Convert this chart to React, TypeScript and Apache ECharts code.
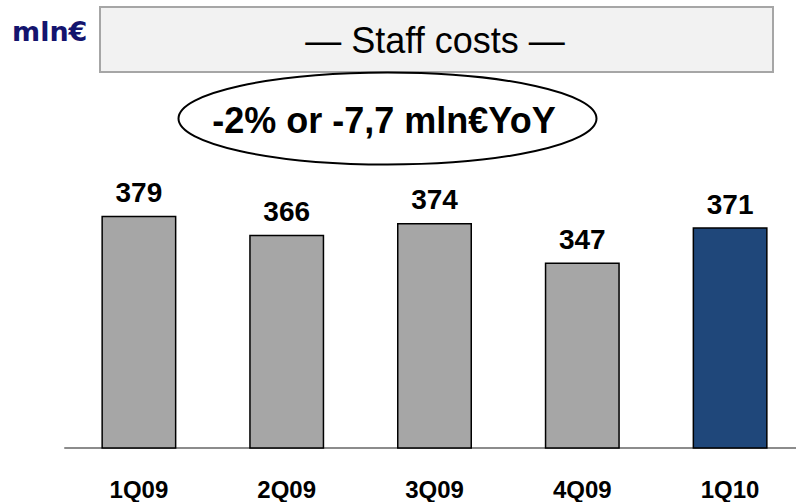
import React, { useEffect, useRef } from "react";
import * as echarts from "echarts";

const categories = ["1Q09", "2Q09", "3Q09", "4Q09", "1Q10"];
const staffCosts = [379, 366, 374, 347, 371];
const barColors = ["#a6a6a6", "#a6a6a6", "#a6a6a6", "#a6a6a6", "#1f477a"];
const titleText = "— Staff costs —";
const unitText = "mln€";
const noteText = "-2% or -7,7 mln€YoY";

export default function App() {
  const ref = useRef<HTMLDivElement>(null);
  useEffect(() => {
    if (!ref.current) return;
    const chart = echarts.init(ref.current, null, { renderer: "svg" });
    const font = "'Liberation Sans', Arial, sans-serif";
    chart.setOption({
      animation: false,
      backgroundColor: "#ffffff",
      grid: { left: 65, width: 739, top: 185, height: 263, containLabel: false },
      xAxis: {
        type: "category",
        data: categories,
        axisLine: { show: true, lineStyle: { color: "#8c8c8c", width: 2 } },
        axisTick: { show: false },
        axisLabel: {
          margin: 29,
          color: "#000000",
          fontFamily: font,
          fontWeight: "bold",
          fontSize: 24,
        },
      },
      yAxis: {
        type: "value",
        min: 220,
        max: 400,
        show: false,
        splitLine: { show: false },
      },
      series: [
        {
          type: "bar",
          data: staffCosts.map((v, i) => ({
            value: v,
            itemStyle: { color: barColors[i] },
          })),
          barWidth: 75,
          itemStyle: { borderColor: "#000000", borderWidth: 1.5 },
          label: {
            show: true,
            position: "top",
            distance: 9,
            color: "#000000",
            fontFamily: font,
            fontWeight: "bold",
            fontSize: 28,
          },
          z: 3,
        },
      ],
      graphic: [
        {
          type: "rect",
          shape: { x: 100, y: 7, width: 673, height: 65 },
          style: { fill: "#f2f2f2", stroke: "#a6a6a6", lineWidth: 2 },
          z: 1,
        },
        {
          type: "text",
          x: 435,
          y: 40,
          style: {
            text: titleText,
            fill: "#000000",
            font: `36px ${font}`,
            textAlign: "center",
            textVerticalAlign: "middle",
          },
          z: 2,
        },
        {
          type: "text",
          x: 12,
          y: 31,
          style: {
            text: unitText,
            fill: "#14146e",
            font: `bold 27px 'DejaVu Sans', sans-serif`,
            textAlign: "left",
            textVerticalAlign: "middle",
          },
          z: 2,
        },
        {
          type: "ellipse",
          shape: { cx: 387.5, cy: 118.5, rx: 209, ry: 46 },
          style: { fill: "none", stroke: "#000000", lineWidth: 2 },
          z: 2,
        },
        {
          type: "text",
          x: 384,
          y: 120,
          style: {
            text: noteText,
            fill: "#000000",
            font: `bold 36px ${font}`,
            textAlign: "center",
            textVerticalAlign: "middle",
          },
          z: 3,
        },
      ],
    });
    return () => chart.dispose();
  }, []);
  return (
    <div
      style={{
        position: "fixed",
        left: 0,
        top: 0,
        width: 796,
        height: 502,
        overflow: "hidden",
        background: "#ffffff",
      }}
    >
      <div ref={ref} style={{ width: 830, height: 502 }} />
    </div>
  );
}
